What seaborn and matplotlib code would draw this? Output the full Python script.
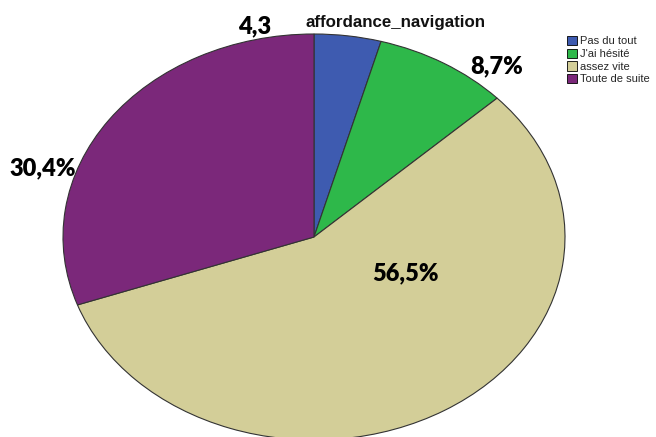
import matplotlib
matplotlib.use("Agg")
import matplotlib.pyplot as plt
import seaborn as sns

sns.set_theme(style="white")
plt.rcParams['font.family'] = ['Liberation Sans', 'DejaVu Sans']

categories = ["Pas du tout", "J'ai hésité", "assez vite", "Toute de suite"]
values = [4.3, 8.7, 56.5, 30.4]
value_labels = ["4,3", "8,7%", "56,5%", "30,4%"]
colors = ["#3E5BB0", "#2EB84A", "#D3CE98", "#7B287A"]
title = "affordance_navigation"

W, H = 656, 437
fig = plt.figure(figsize=(W / 100, H / 100), dpi=100)
fig.patch.set_facecolor("white")

# ellipse spans x 63..565, y 34..440 (pixels from top)
ax = fig.add_axes([63 / W, (H - 440) / H, 502 / W, 406 / H])
wedges, _ = ax.pie(values, colors=colors, startangle=90, counterclock=False,
                   wedgeprops=dict(edgecolor="#333333", linewidth=0.8))
ax.set_aspect("auto")
ax.set_xlim(-1, 1)
ax.set_ylim(-1, 1)
ax.axis("off")

def px2data(px, py):
    return (px - 314) / 251, (237 - py) / 203

label_pos = [(255, 26), (497, 66), (405, 273), (43, 168)]
for lab, (px, py) in zip(value_labels, label_pos):
    x, y = px2data(px, py)
    ax.text(x, y, lab, ha="center", va="center", fontsize=17, fontweight="heavy",
            family=["Lato", "DejaVu Sans"], color="black", clip_on=False)

fig.text(396 / W, 1 - 23 / H, title, ha="center", va="center",
         fontsize=12.2, fontweight="bold", color="#111111")

leg = fig.legend(wedges, categories, loc="upper left",
                 bbox_to_anchor=(567 / W, 1 - 36 / H), frameon=False,
                 fontsize=8, handlelength=0.9, handleheight=0.9,
                 handletextpad=0.25, labelspacing=0.2, borderaxespad=0,
                 borderpad=0)
for h in leg.legend_handles:
    h.set_edgecolor("black")
    h.set_linewidth(0.6)

fig.savefig("out.png", dpi=100, facecolor="white")
